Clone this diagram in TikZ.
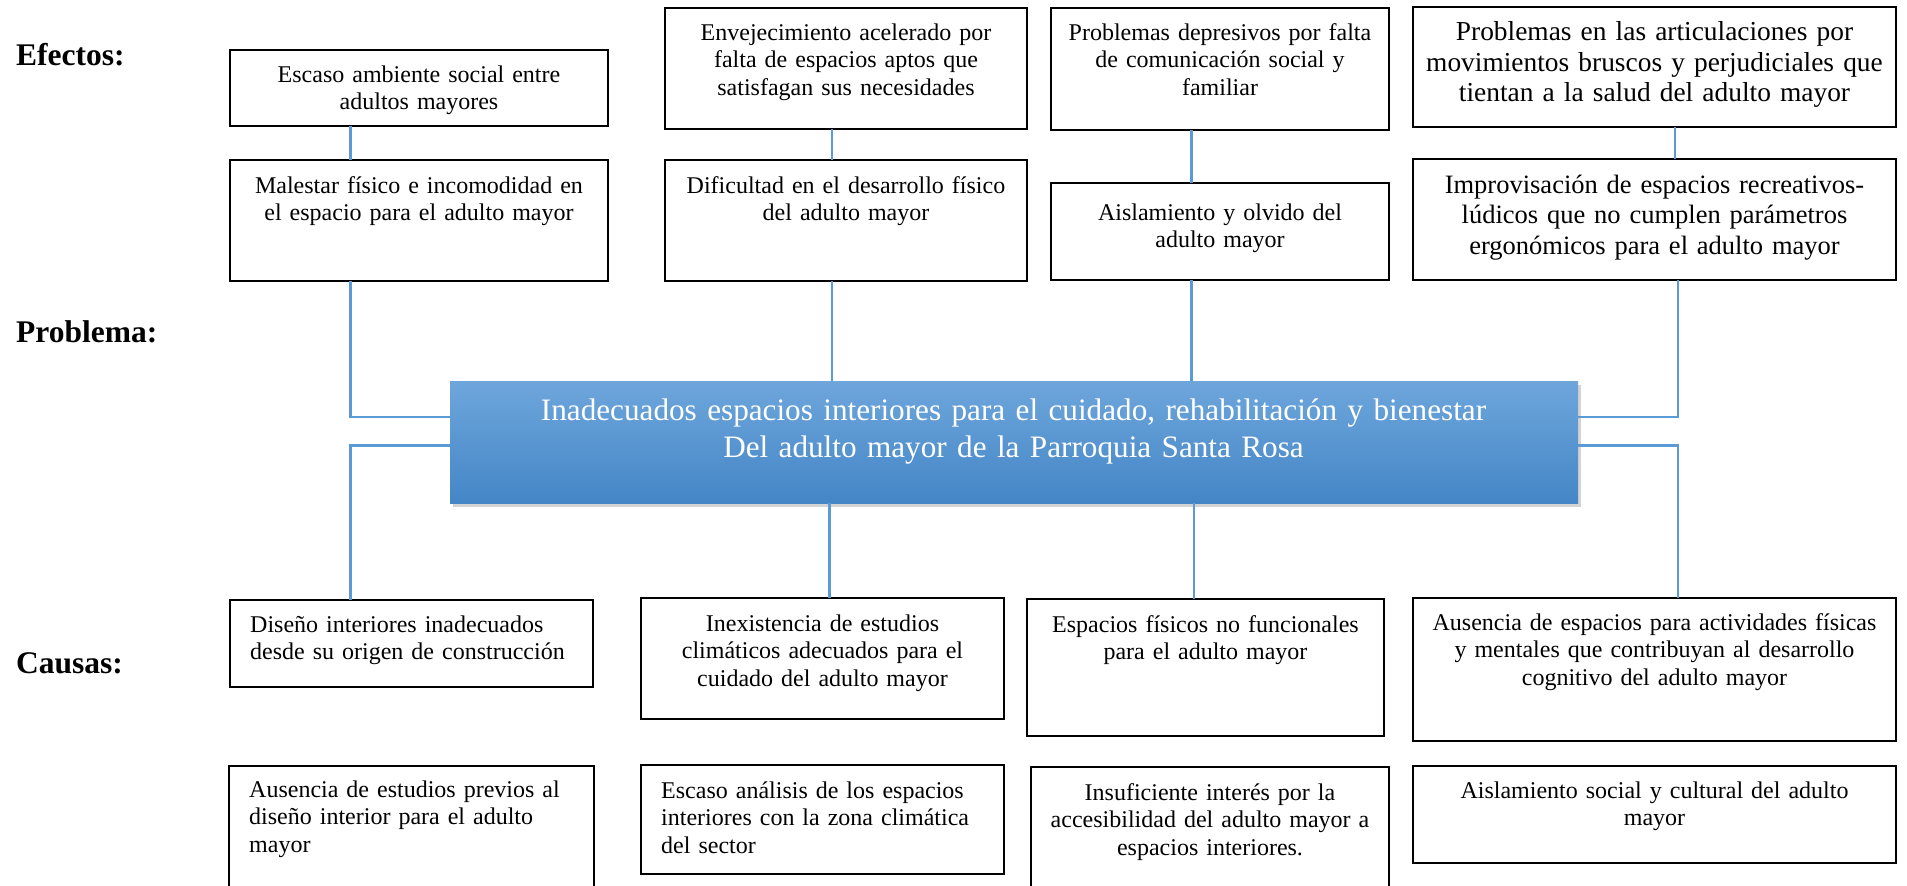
\documentclass[tikz,border=0pt]{standalone}
\usepackage{fontspec}
\setmainfont{Liberation Serif}
\usetikzlibrary{shadows}
\definecolor{lineblue}{HTML}{5B9BD5}
\definecolor{maintop}{HTML}{6EA6DC}
\definecolor{mainbot}{HTML}{4486C6}
\newcommand{\bodyfont}{\fontsize{24}{27.5}\selectfont}
\newcommand{\bigbody}{\fontsize{26.5}{30.8}\selectfont}
\newcommand{\topbody}{\fontsize{27.4}{31}\selectfont}
\newcommand{\mainfnt}{\fontsize{31.2}{37.5}\selectfont}
\newcommand{\lblfont}{\bfseries\fontsize{31.5}{36}\selectfont}
\tikzset{
  box/.style={draw=black, line width=1.5pt, inner sep=0pt, outer sep=0pt, anchor=north west},
  openbox/.style={inner sep=0pt, outer sep=0pt, anchor=north west},
  side/.style={draw=black, line width=1.5pt},
  txt/.style={inner sep=0pt, align=center, text width=#1, font=\bodyfont, anchor=base},
  btxt/.style={inner sep=0pt, align=center, text width=#1, font=\bigbody, anchor=base},
  ltxt/.style={inner sep=0pt, align=left, text width=#1, font=\bodyfont, anchor=base west},
  lbl/.style={inner sep=0pt, font=\lblfont, anchor=base west},
  conn/.style={draw=lineblue, line width=2.2pt},
  mainbox/.style={inner sep=0pt, outer sep=0pt, anchor=north west, top color=maintop, bottom color=mainbot, draw=none,
    drop shadow={opacity=0.35, shadow xshift=3pt, shadow yshift=-4pt}},
}
\begin{document}
\begin{tikzpicture}[x=1pt, y=-1pt]
\useasboundingbox (0,0) rectangle (1907,886);

% labels
\node[lbl] (lefectos) at (16,65) {Efectos:};
\node[lbl] (lproblema) at (16,342) {Problema:};
\node[lbl] (lcausas) at (16,673) {Causas:};

% column coordinates for connectors
\coordinate (xA) at (350.5,0);
\coordinate (xB) at (832,0);
\coordinate (xC) at (1191.5,0);
\coordinate (xD) at (1675,0);
\coordinate (xE) at (1678,0);
\coordinate (xF) at (829.5,0);
\coordinate (xG) at (1194,0);
\coordinate (yU) at (0,417);
\coordinate (yL) at (0,445.5);

% effect boxes (top row)
\node[box, minimum width=378pt, minimum height=76pt] (e1) at (230,50) {};
\node[txt=370pt] (e1t) at (419,82) {Escaso ambiente social entre\\adultos mayores};
\node[box, minimum width=362pt, minimum height=121pt] (e2) at (665,8) {};
\node[txt=355pt] (e2t) at (846,40) {Envejecimiento acelerado por\\falta de espacios aptos que\\satisfagan sus necesidades};
\node[box, minimum width=338pt, minimum height=122pt] (e3) at (1051,8) {};
\node[txt=330pt] (e3t) at (1220,40) {Problemas depresivos por falta\\de comunicación social y\\familiar};
\node[box, minimum width=483pt, minimum height=120pt] (e4) at (1413,7) {};
\node[btxt=478pt, font=\topbody] (e4t) at (1654.5,40) {Problemas en las articulaciones por\\movimientos bruscos y perjudiciales que\\tientan a la salud del adulto mayor};

% effect boxes (second row)
\node[box, minimum width=378pt, minimum height=121pt] (m1) at (230,160) {};
\node[txt=370pt] (m1t) at (419,193) {Malestar físico e incomodidad en\\el espacio para el adulto mayor};
\node[box, minimum width=362pt, minimum height=121pt] (m2) at (665,160) {};
\node[txt=355pt] (m2t) at (846,193) {Dificultad en el desarrollo físico\\del adulto mayor};
\node[box, minimum width=338pt, minimum height=97pt] (m3) at (1051,183) {};
\node[txt=330pt] (m3t) at (1220,220) {Aislamiento y olvido del\\adulto mayor};
\node[box, minimum width=483pt, minimum height=121pt] (m4) at (1413,159) {};
\node[btxt=475pt] (m4t) at (1654.5,193) {Improvisación de espacios recreativos-\\lúdicos que no cumplen parámetros\\ergonómicos para el adulto mayor};

% connectors (effects)
\draw[conn] (e1.south -| xA) -- (m1.north -| xA);
\draw[conn] (e2.south -| xB) -- (m2.north -| xB);
\draw[conn] (e3.south -| xC) -- (m3.north -| xC);
\draw[conn] (e4.south -| xD) -- (m4.north -| xD);

% main problem box
\node[mainbox, minimum width=1128pt, minimum height=122pt] (main) at (450,381) {};
\node[inner sep=0pt, align=center, text width=1100pt, font=\mainfnt, text=white, anchor=base] (maint) at (1013.5,420)
  {Inadecuados espacios interiores para el cuidado, rehabilitación y bienestar\\Del adulto mayor de la Parroquia Santa Rosa};

% connectors to main
\draw[conn] (m1.south -| xA) -- (xA |- yU) -- (main.west |- yU);
\draw[conn] (m2.south -| xB) -- (main.north -| xB);
\draw[conn] (m3.south -| xC) -- (main.north -| xC);
\draw[conn] (m4.south -| xE) -- (xE |- yU) -- (main.east |- yU);

% cause boxes (first row)
\node[box, minimum width=363pt, minimum height=87pt] (c1) at (230,600) {};
\node[ltxt=340pt] (c1t) at (250,632) {Diseño interiores inadecuados\\desde su origen de construcción};
\node[box, minimum width=363pt, minimum height=121pt] (c2) at (641,598) {};
\node[txt=355pt] (c2t) at (822.5,631) {Inexistencia de estudios\\climáticos adecuados para el\\cuidado del adulto mayor};
\node[box, minimum width=357pt, minimum height=137pt] (c3) at (1027,599) {};
\node[txt=350pt] (c3t) at (1205.5,632) {Espacios físicos no funcionales\\para el adulto mayor};
\node[box, minimum width=483pt, minimum height=143pt] (c4) at (1413,598) {};
\node[txt=475pt] (c4t) at (1654.5,630) {Ausencia de espacios para actividades físicas\\y mentales que contribuyan al desarrollo\\cognitivo del adulto mayor};

% connectors to causes
\draw[conn] (main.west |- yL) -- (xA |- yL) -- (c1.north -| xA);
\draw[conn] (main.south -| xF) -- (c2.north -| xF);
\draw[conn] (main.south -| xG) -- (c3.north -| xG);
\draw[conn] (main.east |- yL) -- (xE |- yL) -- (c4.north -| xE);

% cause boxes (second row)
\node[openbox, minimum width=365pt, minimum height=120pt] (d1) at (229,766) {};
\draw[side] (d1.south west) -- (d1.north west) -- (d1.north east) -- (d1.south east);
\node[ltxt=340pt] (d1t) at (249,797) {Ausencia de estudios previos al\\diseño interior para el adulto\\mayor};
\node[box, minimum width=363pt, minimum height=109pt] (d2) at (641,765) {};
\node[ltxt=340pt] (d2t) at (661,798) {Escaso análisis de los espacios\\interiores con la zona climática\\del sector};
\node[openbox, minimum width=358pt, minimum height=119pt] (d3) at (1031,767) {};
\draw[side] (d3.south west) -- (d3.north west) -- (d3.north east) -- (d3.south east);
\node[txt=350pt] (d3t) at (1210,800) {Insuficiente interés por la\\accesibilidad del adulto mayor a\\espacios interiores.};
\node[box, minimum width=483pt, minimum height=97pt] (d4) at (1413,766) {};
\node[txt=475pt] (d4t) at (1654.5,798) {Aislamiento social y cultural del adulto\\mayor};
\end{tikzpicture}
\end{document}
